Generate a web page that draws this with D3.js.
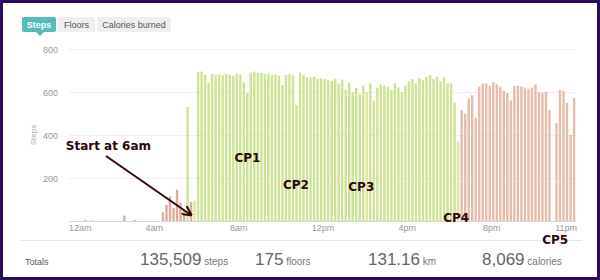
<!DOCTYPE html>
<meta charset="utf-8">
<script src="https://d3js.org/d3.v7.min.js"></script>
<style>
body { margin: 0; background: #fff; }
svg text { font-family: "Liberation Sans", Arial, sans-serif; }
.note { font-family: "DejaVu Sans", Verdana, sans-serif; font-weight: bold; fill: #2e0808; }
</style>
<div id="chart"></div>
<script>

// steps per 10 minutes, one row per hour (12am .. 11pm)
var steps = [
  0,0,0,0,5,0,
  3,0,0,0,0,0,
  0,0,0,25,0,0,
  5,0,0,0,0,0,
  0,0,40,75,115,60,
  145,85,50,530,90,95,
  693,695,680,645,684,680,
  682,678,684,680,676,685,
  680,645,595,690,695,688,
  690,684,686,680,682,676,
  632,680,684,678,540,690,
  680,670,668,672,660,665,
  660,655,650,662,640,658,
  610,645,600,620,590,630,
  600,640,560,620,635,630,
  625,610,640,620,600,630,
  650,660,640,665,655,670,
  680,660,672,650,668,640,
  640,550,370,516,500,570,
  585,480,625,640,640,630,
  645,635,625,605,595,560,
  628,630,625,620,615,620,
  635,600,595,600,515,0,
  455,610,605,550,400,572
];
// zone of each 10 min bar, one string per hour: b = before start, g = on the move, y = stop, r = evening
var zones = [
  "bbbbbb","bbbbbb","bbbbbb","bbbbbb","bbbbbb","bbbgby",
  "gggggg","gggggg","gggggg","gggggg","gggggg","gggggg",
  "gggggg","gggggg","yggggg","gggggg","gggggg","gggggg",
  "ggyrrr","rrrrrr","rrrrrr","rrrrrr","rrrrrr","rrrrrr"
];
var yTicks = [200, 400, 600, 800];
var xTicks = [0, 4, 8, 12, 16, 20, 23];
var xLabels = ["12am", "4am", "8am", "12pm", "4pm", "8pm", "11pm"];
var tabs = ["Steps", "Floors", "Calories burned"];
var totals = [["135,509", "steps"], ["175", "floors"], ["131.16", "km"], ["8,069", "calories"]];
var notes = [
  {text: "Start at 6am", h: -0.2, v: 330},
  {text: "CP1", h: 7.8, v: 275},
  {text: "CP2", h: 10.1, v: 150},
  {text: "CP3", h: 13.2, v: 140},
  {text: "CP4", h: 17.7, v: -5},
  {text: "CP5", h: 22.4, v: -106}
];

var zoneColor = {b: "#dcae9e", g: "#cde396", y: "#e6e39c", r: "#e6bdac"};
var zoneList = zones.join("").split("");

var width = 600, height = 280;
var svg = d3.select("#chart").append("svg")
  .attr("width", width)
  .attr("height", height);

// frame
svg.append("rect")
  .attr("x", 1.5).attr("y", 1.5)
  .attr("width", width - 3).attr("height", height - 3)
  .attr("fill", "#fff")
  .attr("stroke", "#2c0a5c")
  .attr("stroke-width", 3);

var x = d3.scaleLinear().domain([0, 24]).range([70, 576]);
var y = d3.scaleLinear().domain([0, 800]).range([221, 49]);

// tabs
var tabX = [22, 58, 97], tabW = [34, 37, 74];
tabs.forEach(function(t, i) {
  svg.append("rect")
    .attr("x", tabX[i]).attr("y", 17)
    .attr("width", tabW[i]).attr("height", 15)
    .attr("rx", 2)
    .attr("fill", i == 0 ? "#52bdb9" : "#efefef");
  svg.append("text")
    .attr("x", tabX[i] + tabW[i] / 2).attr("y", 28)
    .attr("text-anchor", "middle")
    .style("font-size", "9px")
    .style("font-weight", i == 0 ? "bold" : "normal")
    .attr("fill", i == 0 ? "#fff" : "#555")
    .text(t);
});
svg.append("path")
  .attr("d", "M36,32 L44,32 L40,36 Z")
  .attr("fill", "#52bdb9");

// grid + y labels
svg.selectAll(".grid").data(yTicks).enter().append("line")
  .attr("x1", 69).attr("x2", 576)
  .attr("y1", function(d) { return y(d) + 0.5; })
  .attr("y2", function(d) { return y(d) + 0.5; })
  .attr("stroke", "#efefef");
svg.selectAll(".ylab").data(yTicks).enter().append("text")
  .attr("x", 58)
  .attr("y", function(d) { return y(d) + 3.5; })
  .attr("text-anchor", "end")
  .style("font-size", "9px")
  .attr("fill", "#999")
  .text(function(d) { return d; });
svg.append("text")
  .attr("transform", "translate(36," + y(400) + ") rotate(-90)")
  .attr("text-anchor", "middle")
  .style("font-size", "8px")
  .attr("fill", "#aaa")
  .text("Steps");

// bars
var step = (x(24) - x(0)) / steps.length;
svg.append("g").selectAll("rect").data(steps).enter().append("rect")
  .attr("x", function(d, i) { return x(i / 6) + 0.4; })
  .attr("width", step - 1.1)
  .attr("y", function(d) { return y(d); })
  .attr("height", function(d) { return y(0) - y(d); })
  .attr("fill", function(d, i) { return zoneColor[zoneList[i]]; });

// x axis
svg.append("line")
  .attr("x1", 69).attr("x2", 576)
  .attr("y1", 221.5).attr("y2", 221.5)
  .attr("stroke", "#d8d8d8");
svg.selectAll(".xlab").data(xTicks).enter().append("text")
  .attr("x", function(d, i) { return i == 0 ? x(d) - 1 : (i == xTicks.length - 1 ? x(24) + 1 : x(d)); })
  .attr("y", 231)
  .attr("text-anchor", function(d, i) { return i == 0 ? "start" : (i == xTicks.length - 1 ? "end" : "middle"); })
  .style("font-size", "9px")
  .attr("fill", "#999")
  .text(function(d, i) { return xLabels[i]; });

// separator + totals
svg.append("line")
  .attr("x1", 20).attr("x2", 582)
  .attr("y1", 240.5).attr("y2", 240.5)
  .attr("stroke", "#e6e6e6");
svg.append("text")
  .attr("x", 25).attr("y", 265)
  .style("font-size", "9px")
  .attr("fill", "#555")
  .text("Totals");
var totX = [140, 255, 368, 482];
totals.forEach(function(t, i) {
  var tx = svg.append("text")
    .attr("x", totX[i]).attr("y", 265)
    .attr("fill", "#666");
  tx.append("tspan").style("font-size", "17px").text(t[0]);
  tx.append("tspan").style("font-size", "10px").attr("fill", "#777").text(" " + t[1]);
});

// annotations
svg.append("defs").append("marker")
  .attr("id", "arr")
  .attr("viewBox", "0 0 10 10")
  .attr("refX", 9).attr("refY", 5)
  .attr("markerWidth", 5).attr("markerHeight", 5)
  .attr("orient", "auto")
  .append("path")
  .attr("d", "M0,0 L10,5 L0,10")
  .attr("fill", "none")
  .attr("stroke", "#2e0808")
  .attr("stroke-width", 2);
svg.append("line")
  .attr("x1", 106).attr("y1", 156)
  .attr("x2", 191).attr("y2", 215)
  .attr("stroke", "#2e0808")
  .attr("stroke-width", 2)
  .attr("marker-end", "url(#arr)");

svg.selectAll(".note").data(notes).enter().append("text")
  .attr("class", "note")
  .attr("x", function(d) { return x(d.h); })
  .attr("y", function(d) { return y(d.v); })
  .style("font-size", "12px")
  .text(function(d) { return d.text; });

</script>
